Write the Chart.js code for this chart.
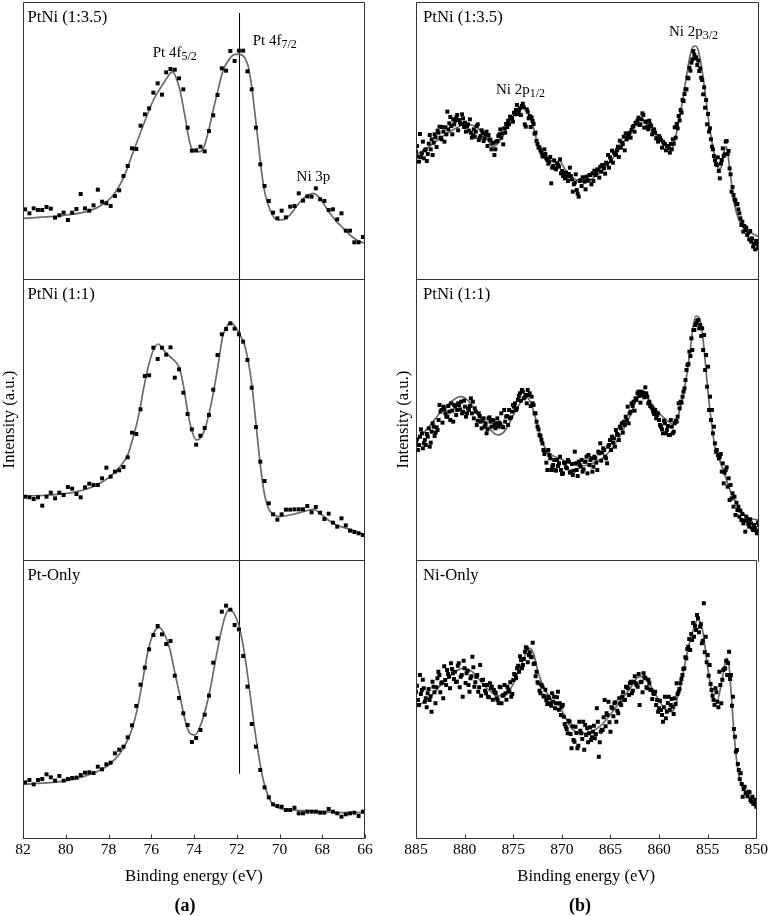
<!DOCTYPE html>
<html><head><meta charset="utf-8">
<script src="https://cdn.jsdelivr.net/npm/chart.js@4.4.1/dist/chart.umd.min.js"></script>
<style>
html,body{margin:0;padding:0;background:#fff;}
body{width:771px;height:916px;position:relative;overflow:hidden;font-family:"Liberation Serif","Times New Roman",serif;}
canvas{position:absolute;}
.cap{position:absolute;font:bold 18px "Liberation Serif",serif;color:#000;transform:translateX(-50%);line-height:18px;white-space:nowrap;}
</style></head><body>
<canvas id="a1" width="390" height="281" style="left:0;top:0"></canvas>
<canvas id="a2" width="390" height="285" style="left:0;top:277px"></canvas>
<canvas id="a3" width="390" height="358" style="left:0;top:558px"></canvas>
<canvas id="b1" width="381" height="281" style="left:390px;top:0"></canvas>
<canvas id="b2" width="381" height="285" style="left:390px;top:277px"></canvas>
<canvas id="b3" width="381" height="358" style="left:390px;top:558px"></canvas>
<div class="cap" style="left:185px;top:896px">(a)</div>
<div class="cap" style="left:580px;top:896px">(b)</div>
<script>
// ---------- DATA ----------
// Pt 4f region (binding energy, eV)
const energyA = [81.9,81.7,81.5,81.3,81.1,80.9,80.7,80.5,80.3,80.1,79.9,79.7,79.5,79.3,79.1,78.9,78.7,78.5,78.3,78.1,
77.9,77.7,77.5,77.3,77.1,76.9,76.7,76.5,76.3,76.1,75.9,75.7,75.5,75.3,75.1,74.9,74.7,74.5,74.3,74.1,
73.9,73.7,73.5,73.3,73.1,72.9,72.7,72.5,72.3,72.1,71.9,71.7,71.5,71.3,71.1,70.9,70.7,70.5,70.3,70.1,
69.9,69.7,69.5,69.3,69.1,68.9,68.7,68.5,68.3,68.1,67.9,67.7,67.5,67.3,67.1,66.9,66.7,66.5,66.3,66.1];
const a1Points = [215,203,218,213,213,222,217,190,197,205,183,205,216,261,218,211,227,274,238,233,
225,255,272,315,345,398,396,466,500,518,565,593,559,626,636,634,608,575,460,391,
392,403,389,450,497,558,638,631,690,660,691,691,629,575,460,350,285,240,205,188,
211,191,223,225,263,241,254,253,278,245,240,213,215,185,203,151,151,116,116,132];
const a2Points = [190,188,183,188,163,190,202,185,202,195,219,214,198,188,218,229,225,225,245,277,
250,265,269,279,308,382,378,452,552,554,637,603,637,616,638,547,572,502,438,392,
346,373,396,435,511,615,677,693,710,694,677,655,600,517,399,295,237,170,137,121,
137,151,151,152,152,152,162,143,159,142,123,139,112,100,125,104,88,84,80,75];
const a3Points = [170,177,164,177,180,194,185,175,189,175,180,183,184,192,199,200,198,217,209,224,
229,257,268,277,305,341,399,463,514,569,612,639,614,585,594,490,423,377,342,291,
303,327,373,430,529,602,682,700,688,642,629,549,457,345,277,207,155,125,104,99,
97,87,87,94,77,77,82,82,82,79,79,90,82,77,67,74,77,79,69,82];
const a1FitE = [82.00,80.74,79.96,78.87,78.24,77.77,77.31,76.84,76.37,75.90,75.43,75.20,75.01,74.89,74.66,74.42,74.19,73.95,73.72,73.53,
73.33,73.10,72.86,72.63,72.32,72.08,71.85,71.61,71.46,71.30,71.15,70.99,70.83,70.68,70.44,70.21,69.90,69.59,69.27,68.96,
68.65,68.42,68.18,67.95,67.64,67.33,67.01,66.70,66.39,66.00];
const a1FitI = [188,193,198,211,231,258,308,388,468,543,593,615,628,618,573,493,413,388,388,403,
448,513,578,633,668,680,680,668,643,583,503,413,323,263,213,188,183,193,218,243,
258,263,253,233,203,178,158,138,123,113];
const a2FitE = [82.00,80.74,79.49,78.55,77.93,77.46,77.07,76.84,76.60,76.37,76.14,75.90,75.67,75.43,75.12,74.81,74.65,74.50,74.31,74.11,
73.88,73.72,73.53,73.33,73.10,72.86,72.66,72.47,72.28,72.08,71.85,71.61,71.46,71.30,71.15,70.99,70.83,70.68,70.52,70.29,
69.98,69.51,69.04,68.73,68.42,68.11,67.72,67.33,66.86,66.39,66.00];
const a2FitI = [192,195,205,225,250,280,320,370,430,510,580,630,648,630,610,590,570,525,450,390,
360,365,385,430,500,590,670,700,712,700,675,640,595,530,440,340,250,190,155,137,
130,135,142,148,152,140,120,105,95,85,75];
const a3FitE = [82.00,80.74,79.96,79.18,78.55,77.93,77.46,77.07,76.84,76.60,76.37,76.14,75.90,75.62,75.36,75.12,74.89,74.65,74.42,74.19,
73.95,73.72,73.49,73.25,73.02,72.78,72.55,72.32,72.13,71.93,71.69,71.46,71.22,70.99,70.76,70.52,70.29,69.98,69.51,68.73,
67.95,67.17,66.00];
const a3FitI = [164,169,175,187,202,225,257,302,342,407,487,567,617,634,612,567,497,427,357,317,
312,337,382,447,527,607,667,690,677,647,577,477,357,257,177,127,102,92,87,85,
82,79,79];
// Ni 2p region
const energyB = [885,884.8,884.6,884.4,884.2,884,883.8,883.6,883.4,883.2,883,882.8,882.6,882.4,882.2,882,881.8,881.6,881.4,881.2,
881,880.8,880.6,880.4,880.2,880,879.8,879.6,879.4,879.2,879,878.8,878.6,878.4,878.2,878,877.8,877.6,877.4,877.2,
877,876.8,876.6,876.4,876.2,876,875.8,875.6,875.4,875.2,875,874.8,874.6,874.4,874.2,874,873.8,873.6,873.4,873.2,
873,872.8,872.6,872.4,872.2,872,871.8,871.6,871.4,871.2,871,870.8,870.6,870.4,870.2,870,869.8,869.6,869.4,869.2,
869,868.8,868.6,868.4,868.2,868,867.8,867.6,867.4,867.2,867,866.8,866.6,866.4,866.2,866,865.8,865.6,865.4,865.2,
865,864.8,864.6,864.4,864.2,864,863.8,863.6,863.4,863.2,863,862.8,862.6,862.4,862.2,862,861.8,861.6,861.4,861.2,
861,860.8,860.6,860.4,860.2,860,859.8,859.6,859.4,859.2,859,858.8,858.6,858.4,858.2,858,857.8,857.6,857.4,857.2,
857,856.8,856.6,856.4,856.2,856,855.8,855.6,855.4,855.2,855,854.8,854.6,854.4,854.2,854,853.8,853.6,853.4,853.2,
853,852.8,852.6,852.4,852.2,852,851.8,851.6,851.4,851.2,851,850.8,850.6,850.4,850.2,850];
const energyBOdd = [884.9,884.7,884.5,884.3,884.1,883.9,883.7,883.5,883.3,883.1,882.9,882.7,882.5,882.3,882.1,881.9,881.7,881.5,881.3,881.1,
880.9,880.7,880.5,880.3,880.1,879.9,879.7,879.5,879.3,879.1,878.9,878.7,878.5,878.3,878.1,877.9,877.7,877.5,877.3,877.1,
876.9,876.7,876.5,876.3,876.1,875.9,875.7,875.5,875.3,875.1,874.9,874.7,874.5,874.3,874.1,873.9,873.7,873.5,873.3,873.1,
872.9,872.7,872.5,872.3,872.1,871.9,871.7,871.5,871.3,871.1,870.9,870.7,870.5,870.3,870.1,869.9,869.7,869.5,869.3,869.1,
868.9,868.7,868.5,868.3,868.1,867.9,867.7,867.5,867.3,867.1,866.9,866.7,866.5,866.3,866.1,865.9,865.7,865.5,865.3,865.1,
864.9,864.7,864.5,864.3,864.1,863.9,863.7,863.5,863.3,863.1,862.9,862.7,862.5,862.3,862.1,861.9,861.7,861.5,861.3,861.1,
860.9,860.7,860.5,860.3,860.1,859.9,859.7,859.5,859.3,859.1,858.9,858.7,858.5,858.3,858.1,857.9,857.7,857.5,857.3,857.1,
856.9,856.7,856.5,856.3,856.1,855.9,855.7,855.5,855.3,855.1,854.9,854.7,854.5,854.3,854.1,853.9,853.7,853.5,853.3,853.1,
852.9,852.7,852.5,852.3,852.1,851.9,851.7,851.5,851.3,851.1,850.9,850.7,850.5,850.3,850.1];
const b1Points = [388,373,441,383,368,395,381,438,425,415,431,451,463,425,448,461,508,473,465,485,
481,498,483,471,488,475,463,451,445,438,433,465,423,435,445,428,448,438,423,413,
378,418,435,455,443,458,471,481,493,488,505,513,501,518,525,521,463,508,495,491,
471,445,411,401,385,373,381,363,358,293,345,338,353,343,323,315,308,313,321,315,
268,295,273,253,303,311,298,313,301,318,323,331,323,333,343,348,338,355,378,371,
391,385,378,403,421,415,433,443,431,445,453,465,475,481,468,485,498,478,463,481,
465,451,445,428,435,423,418,411,405,398,411,425,461,471,495,513,543,561,575,608,
631,665,678,671,661,638,603,581,543,501,458,403,375,351,371,308,363,375,418,381,
338,268,258,241,231,203,168,148,153,138,125,118,103,95,111,101];
const b1PointsOdd = [405,358,372,418,392,360,412,395,378,440,402,445,430,462,418,440,455,492,440,470,
490,452,475,500,462,448,470,485,430,455,448,470,430,452,420,440,405,425,395,415,
395,420,440,430,410,445,462,470,488,478,500,528,510,498,532,470,515,488,462,480,
442,420,400,392,375,395,368,352,372,340,362,335,348,365,330,318,325,300,340,305,
290,320,262,300,285,310,275,302,318,290,300,318,335,310,328,345,322,352,340,360,
355,380,392,372,400,410,392,425,440,430,462,448,472,490,470,503,460,478,455,470,
440,455,428,418,430,400,412,392,405,385,395,412,430,458,482,505,540,575,610,640,
655,690,668,648,630,610,560,520,470,448,425,395,362,348,330,352,398,380,420,390,
320,282,245,230,215,188,178,165,160,145,150,128,112,120,98];
const b2Points = [355,330,370,380,350,345,370,340,385,400,382,390,465,450,460,440,430,445,470,415,
460,450,465,475,445,460,440,450,485,475,455,405,440,415,420,400,380,425,415,420,
405,410,400,408,400,450,430,405,425,445,460,450,480,500,510,485,495,510,500,490,
465,440,400,375,360,330,325,270,315,270,285,270,300,290,270,260,290,275,295,265,
255,325,270,295,280,265,295,310,315,300,265,310,292,325,350,322,330,305,340,360,
370,365,390,375,400,410,415,430,460,440,470,475,485,500,492,505,502,518,490,475,
460,445,450,435,420,400,380,410,390,375,420,380,410,415,470,475,490,515,570,588,
612,630,690,710,720,705,695,675,615,580,490,450,400,325,315,310,265,230,270,220,
180,185,160,135,150,130,120,110,85,120,100,110,90,95,80,105];
const b2PointsOdd = [362,345,392,335,360,378,395,352,410,372,398,420,445,412,452,430,462,420,448,465,
435,470,452,440,478,430,455,462,440,425,445,418,432,395,425,410,392,428,400,418,
395,425,412,440,398,415,432,450,428,465,470,455,492,478,505,488,470,495,462,470,
440,415,392,372,350,318,292,330,305,280,300,268,282,310,258,292,278,300,262,288,
268,290,252,285,300,272,295,260,285,305,280,305,270,320,298,335,310,290,345,330,
352,340,378,360,395,382,405,420,410,445,462,448,480,505,472,495,488,500,470,462,
455,438,425,440,405,392,418,380,402,375,400,385,418,430,455,472,505,540,585,625,
665,690,705,718,695,672,630,570,520,450,420,380,350,330,305,318,290,262,278,245,
225,200,190,172,160,148,138,118,130,108,122,95,105,88,112];
const b3Points = [442,417,492,447,452,422,437,417,382,457,407,482,492,467,422,477,507,487,527,497,
502,472,527,487,427,512,497,462,482,547,457,487,442,522,477,462,437,427,467,457,
447,437,417,457,407,432,437,457,442,427,477,492,512,502,537,522,562,572,552,547,
589,527,502,467,437,457,427,417,427,407,437,427,407,442,407,397,367,337,317,352,
272,297,337,272,352,317,352,342,332,317,297,322,302,392,247,322,327,417,377,412,
322,392,407,352,377,407,427,417,457,452,467,437,472,467,457,402,472,497,482,452,
467,447,437,442,417,392,387,352,427,382,427,402,397,422,467,442,467,492,512,542,
577,567,597,607,627,662,637,587,707,607,552,522,447,417,452,412,502,407,507,512,
492,562,492,427,307,267,207,197,127,157,137,142,117,127,107,97];
const b3PointsOdd = [460,402,435,478,412,395,450,428,472,440,455,502,440,470,518,462,495,452,510,480,
472,520,455,492,535,468,505,442,488,515,470,492,455,430,478,445,462,425,452,418,
440,422,408,455,430,462,418,448,470,435,495,482,520,548,512,540,575,530,560,545,
525,488,470,445,462,430,448,405,422,400,412,392,425,388,372,402,345,330,355,315,
338,292,318,280,325,300,268,312,290,335,305,340,315,352,290,328,365,338,372,350,
395,368,410,385,422,402,440,418,455,432,472,445,488,462,495,470,440,485,455,478,
448,420,435,402,382,415,372,395,362,408,388,420,375,405,435,450,480,510,545,570,
600,615,648,640,672,620,645,595,560,530,490,465,430,402,440,395,462,478,510,535,
528,480,400,330,262,225,180,165,150,138,128,140,112,105,118];
const b1FitE = [885.0,883.67,882.3,880.94,879.92,878.9,877.87,877.19,876.5,875.82,875.14,874.46,874.12,873.6,873.09,872.58,872.07,871.39,870.71,870.37,
869.85,869.17,868.49,867.81,866.95,865.93,864.91,863.88,863.2,862.52,862.01,861.49,860.81,860.13,859.62,859.11,858.77,858.43,857.91,857.4,
857.06,856.72,856.45,856.21,855.87,855.53,855.19,854.84,854.5,854.16,853.89,853.65,853.41,853.24,852.97,852.63,852.29,851.78,851.26,850.75,850.0];
const b1FitI = [378,403,433,458,471,463,433,403,418,453,493,518,525,508,468,413,383,365,355,361,
338,313,301,298,308,333,368,413,443,478,488,473,448,425,408,398,403,443,523,613,
673,703,705,693,643,573,493,423,373,338,338,373,403,393,333,253,203,168,153,143,133];
const b2FitE = [885.0,883.67,882.3,880.94,880.43,879.58,878.55,877.53,876.68,875.99,875.14,874.29,873.78,873.27,872.75,872.07,871.39,870.37,869.17,868.15,
866.95,865.59,864.23,863.2,862.35,862.01,861.5,860.47,859.45,858.77,858.43,858.09,857.57,857.06,856.72,856.45,856.21,855.87,855.53,855.19,
854.84,854.5,854.16,853.65,852.97,852.29,851.6,850.92,850.0];
const b2FitI = [355,400,450,485,490,475,430,395,375,385,430,475,490,470,420,350,320,305,290,282,
290,315,370,430,490,502,490,450,420,408,415,450,520,620,700,732,730,700,610,500,
410,340,310,270,210,170,140,125,120];
const b3FitE = [885.0,883.67,882.3,880.94,880.26,879.23,877.87,876.85,876.16,875.48,874.8,874.12,873.61,873.27,872.92,872.41,871.73,871.05,870.19,869.68,
869.0,867.98,866.95,865.93,864.91,863.88,862.86,862.18,861.84,861.16,860.13,859.45,858.77,858.43,857.91,857.4,856.89,856.38,856.04,855.7,
855.36,855.02,854.67,854.33,853.99,853.65,853.31,853.04,852.8,852.56,852.29,851.94,851.6,851.09,850.58,850.0];
const b3FitI = [397,422,467,502,512,502,457,432,429,442,477,527,562,572,557,497,447,417,397,367,
332,317,322,342,377,417,457,485,487,472,422,392,382,392,447,517,587,637,657,647,
597,517,457,417,417,457,512,542,517,427,317,217,167,137,122,112];
// Axis ticks
const ticksA = [82,80,78,76,74,72,70,68,66];
const ticksB = [885,880,875,870,865,860,855,850];
// Texts
const panelLabelsA = ['PtNi (1:3.5)','PtNi (1:1)','Pt-Only'];
const panelLabelsB = ['PtNi (1:3.5)','PtNi (1:1)','Ni-Only'];
const annA1Text = ['Pt 4f','Pt 4f','Ni 3p'];
const annA1Sub = ['5/2','7/2',''];
const annA1Energy = [75.93,71.25,69.2];
const annA1Level = [671,708,300];
const annB1Text = ['Ni 2p','Ni 2p'];
const annB1Sub = ['1/2','3/2'];
const annB1Energy = [876.84,859.18];
const annB1Level = [561,736];
// Pt 4f7/2 reference line
const refLineEnergy = 71.87;
const refLineTop = 803;     // in top panel
const refLineBottom = 197;  // in bottom panel
const yTitle = 'Intensity (a.u.)';
const xTitle = 'Binding energy (eV)';

// ---------- DRAWING ----------
const FONT = '"Liberation Serif","Times New Roman",serif';
const LABEL_SIZE = 16.7, ANN_SIZE = 15, SUB_SIZE = 12, TICK_SIZE = 15.6;
const rows = [
  {padTop:2,padBottom:2,ymin:6,ymax:837},
  {padTop:2,padBottom:2,ymin:0,ymax:843},
  {padTop:2,padBottom:28,ymin:3,ymax:837}
];
const cols = {
  a:{min:66,max:82,step:2,ticks:ticksA,axisW:23,padRight:25,labelDx:4.5,titlePad:0,labels:panelLabelsA},
  b:{min:850,max:885,step:5,ticks:ticksB,axisW:26,padRight:12,labelDx:7,titlePad:4,labels:panelLabelsB}
};
function pts(xs, ys){ return xs.map((x,i)=>({x:x,y:ys[i]})); }

function framePlugin(colKey,row,ann){
  const c = cols[colKey];
  return {
    id:'frame'+colKey+row,
    afterDraw(chart){
      const ctx = chart.ctx, a = chart.chartArea;
      const L = Math.floor(a.left)+0.5, R = Math.ceil(a.right)-0.5;
      const T = Math.floor(a.top)+0.5, B = Math.floor(a.bottom)+0.5;
      ctx.save();
      ctx.strokeStyle = '#333'; ctx.lineWidth = 1;
      ctx.beginPath();
      const ext = row===2?0:2;
      ctx.moveTo(L,B+ext); ctx.lineTo(L,T); ctx.lineTo(R,T); ctx.lineTo(R,B+ext);
      if(row===2){ ctx.moveTo(L,B); ctx.lineTo(R,B); }
      ctx.stroke();
      if(row===2){
        const xs = chart.scales.x;
        ctx.beginPath();
        c.ticks.forEach(v=>{ const px = Math.round(xs.getPixelForValue(v))+0.5; ctx.moveTo(px,B); ctx.lineTo(px,B-4); });
        ctx.stroke();
      }
      ctx.fillStyle = '#000';
      ctx.textBaseline = 'alphabetic'; ctx.textAlign = 'left';
      ctx.font = LABEL_SIZE+'px '+FONT;
      ctx.fillText(c.labels[row], a.left + c.labelDx, a.top + 20);
      if(ann){
        const xs = chart.scales.x, ys = chart.scales.y;
        ann.text.forEach((t,i)=>{
          const x = xs.getPixelForValue(ann.energy[i]), y = ys.getPixelForValue(ann.level[i]);
          ctx.font = ANN_SIZE+'px '+FONT; ctx.fillText(t, x, y);
          if(ann.sub[i]){ const w = ctx.measureText(t).width; ctx.font = SUB_SIZE+'px '+FONT; ctx.fillText(ann.sub[i], x+w, y+3); }
        });
      }
      ctx.restore();
    }
  };
}

function makePanel(id, colKey, row, pointSets, fE, fI, extra, ann){
  const c = cols[colKey], r = rows[row];
  let all = [];
  pointSets.forEach(s=>{ all = all.concat(pts(s[0], s[1])); });
  const datasets = [
    {data:all, pointStyle:'rect', pointRadius:2.8, pointHoverRadius:2.8, backgroundColor:'#000', borderColor:'#000', borderWidth:0, showLine:false},
    {data:pts(fE,fI), showLine:true, pointRadius:0, borderColor:'#6b6b6b', borderWidth:1.7, cubicInterpolationMode:'monotone', fill:false}
  ];
  if(extra) datasets.push({data:extra, showLine:true, pointRadius:0, borderColor:'#000', borderWidth:1, fill:false});
  new Chart(document.getElementById(id), {
    type:'scatter',
    data:{datasets},
    options:{
      responsive:false, animation:false, events:[],
      font:{family:FONT},
      layout:{autoPadding:false, padding:{left:0,right:c.padRight,top:r.padTop,bottom:r.padBottom}},
      plugins:{legend:{display:false},tooltip:{enabled:false}},
      scales:{
        x:{type:'linear', reverse:true, min:c.min, max:c.max, display: row===2,
           grid:{display:false, drawTicks:false}, border:{display:false},
           ticks:{stepSize:c.step, padding:3, font:{size:TICK_SIZE, family:FONT}, color:'#000', maxRotation:0, autoSkip:false},
           title:{display: row===2, text:xTitle, font:{size:LABEL_SIZE, family:FONT}, color:'#000', padding:{top:0,bottom:1}},
           afterFit(s){ s.height = row===2 ? 50 : 0; }},
        y:{type:'linear', min:r.ymin, max:r.ymax, display:true,
           grid:{display:false, drawTicks:false}, border:{display:false},
           ticks:{display:false},
           title:{display: row===1, text:yTitle, font:{size:LABEL_SIZE, family:FONT}, color:'#000', padding:{top:c.titlePad,bottom:0}},
           afterFit(s){ s.width = c.axisW; }}
      }
    },
    plugins:[framePlugin(colKey,row,ann)]
  });
}

function drawAll(){
  Chart.defaults.font.family = FONT;
  Chart.defaults.color = '#000';
  makePanel('a1','a',0,[[energyA,a1Points]],a1FitE,a1FitI,[{x:refLineEnergy,y:refLineTop},{x:refLineEnergy,y:rows[0].ymin}],
    {text:annA1Text,sub:annA1Sub,energy:annA1Energy,level:annA1Level});
  makePanel('a2','a',1,[[energyA,a2Points]],a2FitE,a2FitI,[{x:refLineEnergy,y:rows[1].ymin},{x:refLineEnergy,y:rows[1].ymax}],null);
  makePanel('a3','a',2,[[energyA,a3Points]],a3FitE,a3FitI,[{x:refLineEnergy,y:rows[2].ymax},{x:refLineEnergy,y:refLineBottom}],null);
  makePanel('b1','b',0,[[energyB,b1Points],[energyBOdd,b1PointsOdd]],b1FitE,b1FitI,null,
    {text:annB1Text,sub:annB1Sub,energy:annB1Energy,level:annB1Level});
  makePanel('b2','b',1,[[energyB,b2Points],[energyBOdd,b2PointsOdd]],b2FitE,b2FitI,null,null);
  makePanel('b3','b',2,[[energyB,b3Points],[energyBOdd,b3PointsOdd]],b3FitE,b3FitI,null,null);
}
let started = false;
function go(){ if(started) return; started = true; drawAll(); }
if (document.fonts && document.fonts.load) {
  Promise.all([document.fonts.load('16px "Liberation Serif"'), document.fonts.load('12px "Liberation Serif"')]).then(go, go);
  setTimeout(go, 1500);
} else { go(); }
</script>
</body></html>
